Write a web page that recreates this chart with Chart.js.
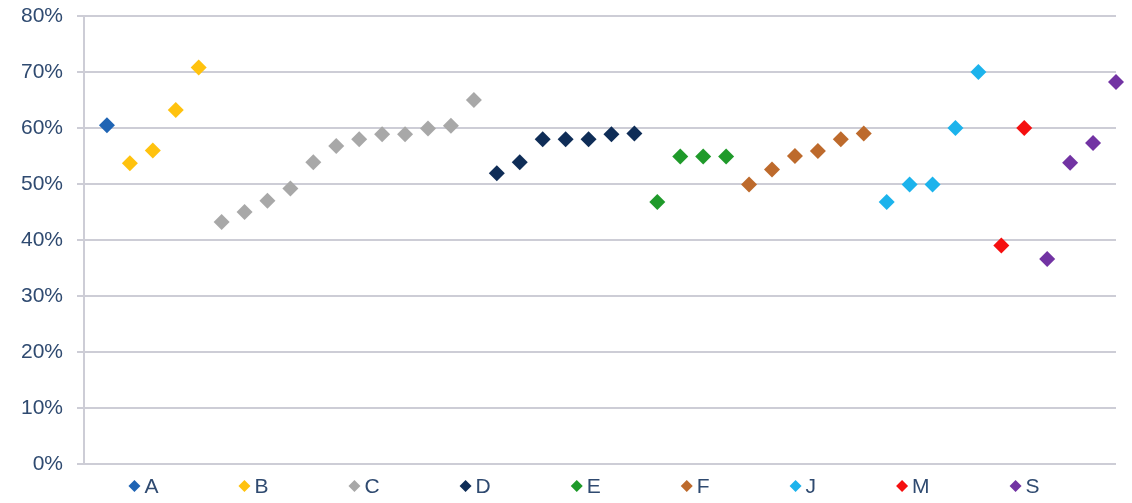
<!DOCTYPE html>
<html>
<head>
<meta charset="utf-8">
<script src="https://cdn.jsdelivr.net/npm/chart.js@4/dist/chart.umd.min.js"></script>
<style>
  html, body { margin: 0; padding: 0; background: #ffffff; }
  #wrap { width: 1132px; height: 503px; position: relative; }
</style>
</head>
<body>
<div id="wrap"><canvas id="chart"></canvas></div>
<script>
// Groups, in the order they run along the horizontal axis
const categories = ['A', 'B', 'C', 'D', 'E', 'F', 'J', 'M', 'S'];

// Share per item (%), one list per group
const valuesA = [60.5];
const valuesB = [53.7, 56.0, 63.2, 70.8];
const valuesC = [43.2, 45.0, 47.0, 49.2, 53.9, 56.8, 58.0, 58.9, 58.9, 59.9, 60.4, 65.0];
const valuesD = [51.9, 53.9, 58.0, 58.0, 58.0, 58.9, 59.0];
const valuesE = [46.8, 54.9, 54.9, 54.9];
const valuesF = [49.9, 52.6, 55.0, 55.9, 58.0, 59.0];
const valuesJ = [46.8, 49.9, 49.9, 60.0, 70.0];
const valuesM = [39.0, 60.0];
const valuesS = [36.6, 53.8, 57.3, 68.2];

// Value axis ticks (%)
const yTicks = [0, 10, 20, 30, 40, 50, 60, 70, 80];

const seriesValues = [valuesA, valuesB, valuesC, valuesD, valuesE, valuesF, valuesJ, valuesM, valuesS];
const seriesColors = ['#1f64b4', '#ffc20e', '#a8a8a8', '#0f2d57', '#1f9a2a', '#bd6a2c', '#1cb3ec', '#f50f0f', '#7233a3'];

const textColor = '#2f4a70';
const gridColor = '#cdcdd6';
const fontFamily = "'Liberation Sans', Arial, sans-serif";

// Items are placed one after another: the running index is the x value
let runningIndex = 0;
const datasets = categories.map((name, i) => ({
  label: name,
  data: seriesValues[i].map(v => ({ x: ++runningIndex, y: v })),
  backgroundColor: seriesColors[i],
  borderColor: seriesColors[i],
  borderWidth: 0,
  pointStyle: 'rectRot',
  pointRadius: 8,
  pointHoverRadius: 8,
  showLine: false,
  clip: false
}));
const itemCount = runningIndex;

// Single-row legend under the plot; gap = space from a label's end to the next marker's centre
const bottomLegend = {
  id: 'bottomLegend',
  afterDraw(chart, args, opts) {
    const ctx = chart.ctx;
    ctx.save();
    ctx.font = opts.font;
    ctx.textAlign = 'left';
    ctx.textBaseline = 'middle';
    const items = chart.data.datasets.map(ds => ({
      text: ds.label,
      color: ds.backgroundColor,
      width: ctx.measureText(ds.label).width
    }));
    const r = opts.markerRadius;
    const rowWidth = r + items.reduce((s, it) => s + opts.markerToText + it.width, 0) + opts.gap * (items.length - 1);
    let x = opts.centerX - rowWidth / 2 + r;
    const y = opts.y;
    items.forEach(it => {
      ctx.fillStyle = it.color;
      ctx.beginPath();
      ctx.moveTo(x, y - r);
      ctx.lineTo(x + r, y);
      ctx.lineTo(x, y + r);
      ctx.lineTo(x - r, y);
      ctx.closePath();
      ctx.fill();
      ctx.fillStyle = opts.color;
      ctx.fillText(it.text, x + opts.markerToText, y + 1);
      x += opts.markerToText + it.width + opts.gap;
    });
    ctx.restore();
  }
};

new Chart(document.getElementById('chart'), {
  type: 'scatter',
  data: { datasets },
  plugins: [bottomLegend],
  options: {
    responsive: true,
    maintainAspectRatio: false,
    animation: false,
    layout: { padding: { left: 0, right: 16, top: 16, bottom: 39 } },
    plugins: {
      legend: { display: false },
      tooltip: { enabled: false },
      bottomLegend: {
        font: `21px ${fontFamily}`,
        color: textColor,
        markerRadius: 6,
        markerToText: 10,
        gap: 86,
        centerX: 584,
        y: 486
      }
    },
    scales: {
      x: {
        type: 'linear',
        min: 0,
        max: itemCount,
        display: false
      },
      y: {
        min: yTicks[0],
        max: yTicks[yTicks.length - 1],
        afterBuildTicks: scale => { scale.ticks = yTicks.map(v => ({ value: v })); },
        afterFit: scale => {
          scale.width = 84;
          scale.paddingTop = 0;
          scale.paddingBottom = 0;
        },
        grid: {
          color: gridColor,
          lineWidth: 2,
          tickLength: 7,
          tickColor: gridColor
        },
        border: { display: true, color: gridColor, width: 2 },
        ticks: {
          padding: 14,
          color: textColor,
          font: { family: fontFamily, size: 21 },
          callback: v => v + '%'
        }
      }
    }
  }
});
</script>
</body>
</html>
